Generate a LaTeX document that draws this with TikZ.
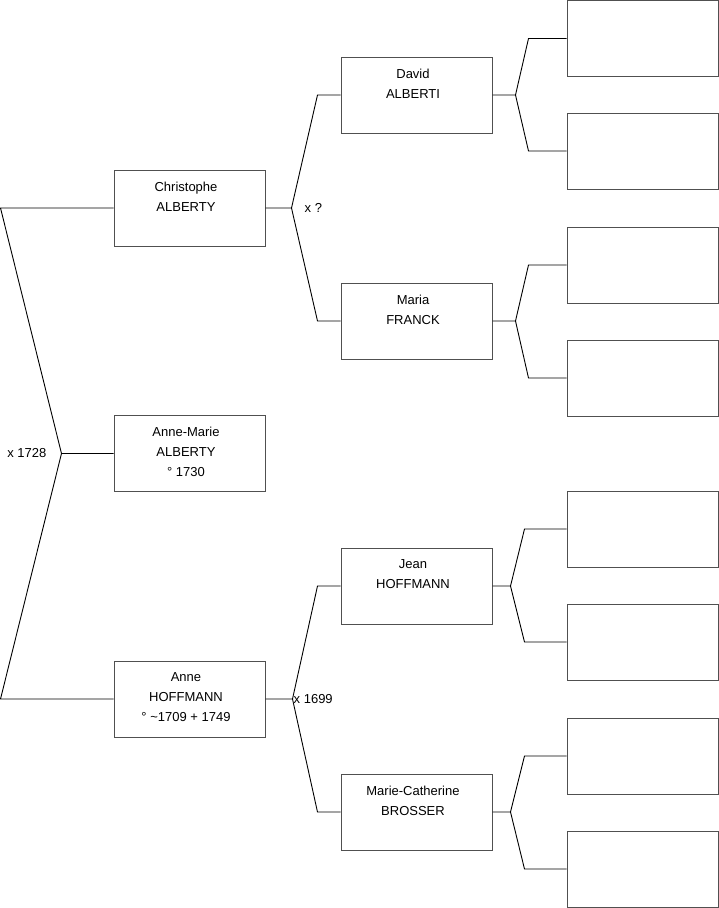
\documentclass[tikz,border=0pt]{standalone}
\usepackage{fontspec}
\setmainfont{Liberation Sans}
\usetikzlibrary{positioning}
\definecolor{boxGray}{RGB}{80,80,80}

\begin{document}
\begin{tikzpicture}[x=1pt,y=-1pt,
    box/.style={draw=boxGray,line width=1pt,minimum width=151pt,minimum height=76pt,inner sep=0pt},
    who/.style={box,label={[lab]north:#1}},
    lab/.style={anchor=north,xshift=-3.5pt,yshift=-12.3pt,inner sep=0pt,align=center,font=\fontsize{13}{20}\selectfont},
    link/.style={line width=0.9pt},
    note/.style={inner sep=0pt,font=\fontsize{13}{20}\selectfont}]
  \useasboundingbox (0,0) rectangle (719,908);
  % the child
  \node[who={Anne-Marie\\ALBERTY\\° 1730}] (annemarie) at (189.5,453.5) {};
  % parents
  \node[who={Christophe\\ALBERTY}] (christophe) at (189.5,208) {};
  \node[who={Anne\\HOFFMANN\\° \textasciitilde1709 + 1749}] (anne) at (189.5,699) {};
  % grandparents
  \node[who={David\\ALBERTI}] (david) at (416.5,95) {};
  \node[who={Maria\\FRANCK}] (maria) at (416.5,321) {};
  \node[who={Jean\\HOFFMANN}] (jean) at (416.5,586) {};
  \node[who={Marie-Catherine\\BROSSER}] (mariecath) at (416.5,812) {};
  % great-grandparents, still unknown
  \foreach \y [count=\i] in {38.5,151,265,378,529,642,756,869}
    \node[box] (gg\i) at (642.5,\y) {};

  % marriage of the parents
  \coordinate (annemarie-fork) at ([xshift=-52pt]annemarie.west);
  \draw[link] (annemarie.west) -- (annemarie-fork) -- ([xshift=-113pt]christophe.west) -- (christophe.west);
  \draw[link] (annemarie-fork) -- ([xshift=-113pt]anne.west) -- (anne.west);

  \foreach \kid/\up/\down/\gap/\bend in {
      christophe/david/maria/26/23,
      anne/jean/mariecath/27/23,
      david/gg1/gg2/23/38,
      maria/gg3/gg4/23/38,
      jean/gg5/gg6/18/42,
      mariecath/gg7/gg8/18/42} {
    \coordinate (\kid-fork) at ([xshift=\gap pt]\kid.east);
    \draw[link] (\kid.east) -- (\kid-fork) -- ([xshift=-\bend pt]\up.west) -- (\up.west);
    \draw[link] (\kid-fork) -- ([xshift=-\bend pt]\down.west) -- (\down.west);
  }

  % wedding dates
  \node[note,left=15pt of annemarie-fork] (wed0) {x 1728};
  \node[note,right=13pt of christophe-fork] (wed1) {x ?};
  \node[note,right=1pt of anne-fork] (wed2) {x 1699};
\end{tikzpicture}
\end{document}
